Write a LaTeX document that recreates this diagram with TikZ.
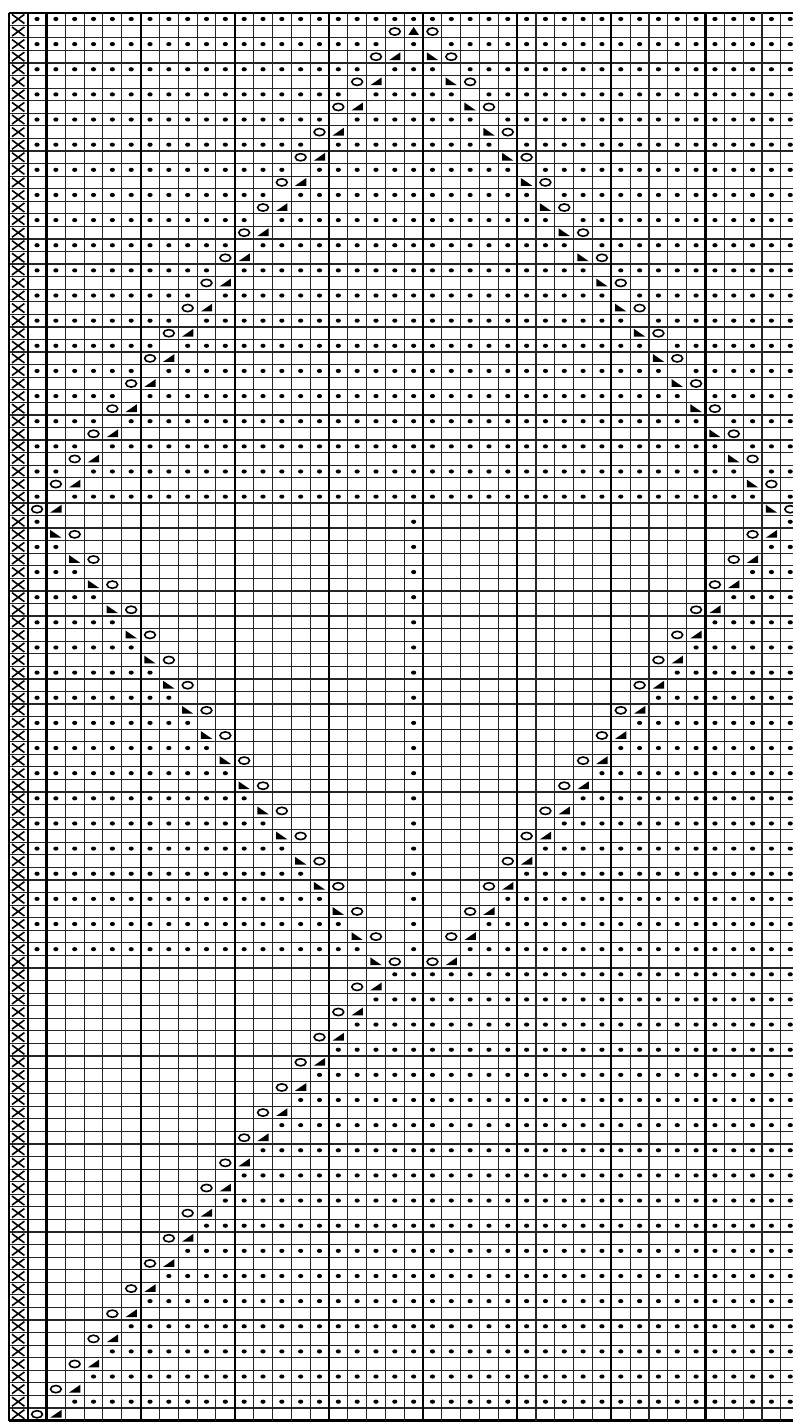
\documentclass[tikz,border=0pt]{standalone}
\begin{document}
\begin{tikzpicture}[x=9.415pt,y=-6.285pt,
  hthin/.style={line width=0.6pt,black!85},
  vthin/.style={line width=0.55pt,black!85},
  vthick/.style={line width=1.1pt,black},
  yomark/.style={line width=0.8pt,black},
  xmark/.style={line width=0.8pt,black}]
\newcommand\chDot[2]{\fill (#1,#2) ellipse [x radius=1.3pt,y radius=1.05pt];}
\newcommand\chYO[2]{\draw[yomark] (#1,#2) ellipse [x radius=2.7pt,y radius=1.8pt];}
\newcommand\chKR[2]{\fill (#1,#2) ++(-0.3,0.27) -- ++(0.6,0) -- ++(0,-0.62) -- cycle;}
\newcommand\chKL[2]{\fill (#1,#2) ++(-0.3,-0.35) -- ++(0,0.62) -- ++(0.6,0) -- cycle;}
\newcommand\chCD[2]{\fill (#1,#2) ++(-0.28,0.27) -- ++(0.56,0) -- ++(-0.28,-0.64) -- cycle;}
\newcommand\chX[2]{\draw[xmark] (#1,#2) ++(-0.33,-0.36) -- ++(0.66,0.72) ++(-0.66,0) -- ++(0.66,-0.72);}
\useasboundingbox (-1.967,-1.510) rectangle (40.146,111.776);
\fill[white] (-1.967,-1.510) rectangle (40.146,111.776);
\clip (-1.967,-1.510) rectangle (40.146,111.776);
% grid
\foreach \r in {0,...,112} {\draw[hthin] (-1.5,\r-0.5) -- (40.5,\r-0.5);}
\draw[vthick] (-1.5,-0.5) -- (40.5,-0.5);
\draw[vthick] (-1.5,111.5) -- (40.5,111.5);
\foreach \c in {-1,...,41} {\draw[vthin] (\c-0.5,-0.5) -- (\c-0.5,111.5);}
\foreach \c in {-1,0,1,6,11,16,21,26,31,36,41} {\draw[vthick] (\c-0.5,-0.5) -- (\c-0.5,111.5);}
% edge column
\foreach \r in {0,...,111} {\chX{-1}{\r}}
% even rows
\foreach \c in {0,...,40} {\chDot{\c}{0}}
\foreach \m in {1,...,19} {
  \pgfmathtruncatemacro\rr{2*\m}
  \pgfmathtruncatemacro\aa{20-\m}
  \pgfmathtruncatemacro\bb{20+\m}
  \foreach \c in {0,...,40} {
    \ifnum\c=\aa\relax\else\ifnum\c=\bb\relax\else\chDot{\c}{\rr}\fi\fi
  }
}
\foreach \i in {0,...,17} {
  \pgfmathtruncatemacro\rr{40+2*\i}
  \pgfmathtruncatemacro\bb{40-\i}
  \foreach \c in {0,...,\i} {\chDot{\c}{\rr}}
  \chDot{20}{\rr}
  \foreach \c in {\bb,...,40} {\chDot{\c}{\rr}}
}
\foreach \i in {0,...,17} {
  \pgfmathtruncatemacro\rr{76+2*\i}
  \pgfmathtruncatemacro\aa{19-\i}
  \foreach \c in {\aa,...,40} {\chDot{\c}{\rr}}
}
% odd rows
\chYO{19}{1}\chCD{20}{1}\chYO{21}{1}
\foreach \k in {1,...,19} {
  \pgfmathtruncatemacro\rr{2*\k+1}
  \pgfmathtruncatemacro\aa{19-\k}
  \pgfmathtruncatemacro\bb{20-\k}
  \pgfmathtruncatemacro\cc{20+\k}
  \pgfmathtruncatemacro\dd{21+\k}
  \chYO{\aa}{\rr}\chKR{\bb}{\rr}\chKL{\cc}{\rr}\chYO{\dd}{\rr}
}
\foreach \j in {1,...,18} {
  \pgfmathtruncatemacro\rr{39+2*\j}
  \pgfmathtruncatemacro\aa{\j+1}
  \pgfmathtruncatemacro\bb{39-\j}
  \pgfmathtruncatemacro\cc{40-\j}
  \chKL{\j}{\rr}\chYO{\aa}{\rr}\chYO{\bb}{\rr}\chKR{\cc}{\rr}
}
\foreach \i in {0,...,17} {
  \pgfmathtruncatemacro\rr{77+2*\i}
  \pgfmathtruncatemacro\aa{17-\i}
  \pgfmathtruncatemacro\bb{18-\i}
  \chYO{\aa}{\rr}\chKR{\bb}{\rr}
}
\end{tikzpicture}
\end{document}
